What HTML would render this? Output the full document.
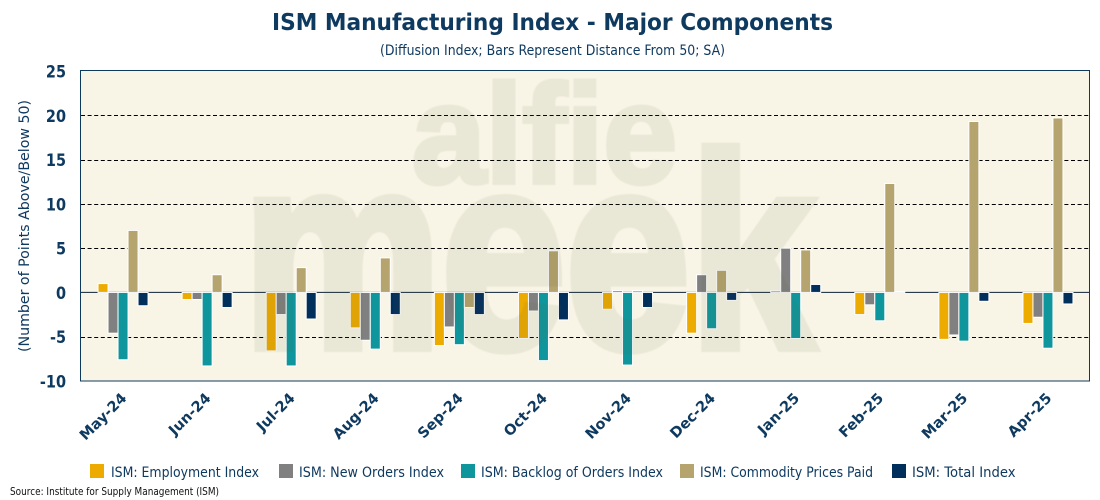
<!DOCTYPE html>
<html lang="en">
<head>
<meta charset="utf-8">
<title>ISM Manufacturing Index - Major Components</title>
<style>
html,body{margin:0;padding:0;background:#fff;width:1100px;height:500px;overflow:hidden}
svg{display:block}
text{font-family:"DejaVu Sans","Liberation Sans",sans-serif}
.navy{fill:#0f3a60}
</style>
</head>
<body>
<svg id="chart" xmlns="http://www.w3.org/2000/svg" width="1100" height="500" viewBox="0 0 1100 500">
  <rect width="1100" height="500" fill="#fff"/>
  <text class="navy" x="272" y="30" font-size="23" font-weight="700" textLength="561" lengthAdjust="spacingAndGlyphs">ISM Manufacturing Index - Major Components</text>
  <text class="navy" x="380" y="55" font-size="14" textLength="345" lengthAdjust="spacingAndGlyphs">(Diffusion Index; Bars Represent Distance From 50; SA)</text>
  <rect x="80.5" y="70.5" width="1009" height="310.5" fill="#f8f5e6"/>
  <g id="grid"></g>
  <g id="bars"></g>
  <g fill="#5a5a3c" stroke="#5a5a3c" opacity="0.085" style="filter:blur(.5px)">
    <text x="412" y="182.5" font-size="140" font-weight="700" stroke-width="5" textLength="265" lengthAdjust="spacingAndGlyphs" style="font-family:'Liberation Sans',sans-serif">alfie</text>
    <text x="243" y="347" font-size="275" font-weight="700" stroke-width="10" textLength="571" lengthAdjust="spacingAndGlyphs" style="font-family:'Liberation Sans',sans-serif">meek</text>
  </g>
  <rect x="80.5" y="70.5" width="1009" height="310.5" fill="none" stroke="#0f3a60" stroke-width="1"/>
  <g id="yticks"></g>
  <g id="xticks"></g>
  <text class="navy" transform="translate(29,352) rotate(-90)" x="0" y="0" font-size="14.5" textLength="252" lengthAdjust="spacingAndGlyphs">(Number of Points Above/Below 50)</text>
  <g>
    <g>
      <rect x="90" y="464" width="14" height="14" fill="#edab00"/>
      <text class="navy" x="111" y="477" font-size="14" textLength="148" lengthAdjust="spacingAndGlyphs">ISM: Employment Index</text>
    </g>
    <g>
      <rect x="279" y="464" width="14" height="14" fill="#808080"/>
      <text class="navy" x="299" y="477" font-size="14" textLength="145" lengthAdjust="spacingAndGlyphs">ISM: New Orders Index</text>
    </g>
    <g>
      <rect x="461" y="464" width="14" height="14" fill="#0f969c"/>
      <text class="navy" x="481" y="477" font-size="14" textLength="182" lengthAdjust="spacingAndGlyphs">ISM: Backlog of Orders Index</text>
    </g>
    <g>
      <rect x="680" y="464" width="14" height="14" fill="#b5a46d"/>
      <text class="navy" x="700" y="477" font-size="14" textLength="173" lengthAdjust="spacingAndGlyphs">ISM: Commodity Prices Paid</text>
    </g>
    <g>
      <rect x="892" y="464" width="14" height="14" fill="#002f5c"/>
      <text class="navy" x="912" y="477" font-size="14" textLength="103.5" lengthAdjust="spacingAndGlyphs">ISM: Total Index</text>
    </g>
  </g>
  <text x="10" y="495" font-size="10.5" fill="#111" textLength="209" lengthAdjust="spacingAndGlyphs">Source: Institute for Supply Management (ISM)</text>
</svg>
<script>
const categories = ["May-24","Jun-24","Jul-24","Aug-24","Sep-24","Oct-24","Nov-24","Dec-24","Jan-25","Feb-25","Mar-25","Apr-25"];
const employment = [1.0,-0.8,-6.6,-4.0,-6.0,-5.2,-1.9,-4.6,0.2,-2.5,-5.3,-3.5];
const newOrders = [-4.6,-0.8,-2.5,-5.4,-3.9,-2.1,0.2,2.0,5.0,-1.4,-4.8,-2.8];
const backlog = [-7.6,-8.3,-8.3,-6.4,-5.9,-7.7,-8.2,-4.1,-5.2,-3.2,-5.5,-6.3];
const prices = [7.0,2.0,2.8,3.9,-1.7,4.7,0.2,2.5,4.8,12.3,19.3,19.7];
const total = [-1.5,-1.7,-3.0,-2.5,-2.5,-3.1,-1.7,-0.9,0.9,0.1,-1.0,-1.3];
const yTickValues = [25,20,15,10,5,0,-5,-10];
const gridValues = [20,15,10,5,-5];
const seriesList = [employment,newOrders,backlog,prices,total];
const seriesKeys = ["employment","new-orders","backlog","commodity-prices","total"];
const seriesColors = ["#edab00","#808080","#0f969c","#b5a46d","#002f5c"];

const NS = "http://www.w3.org/2000/svg";
const plot = {left:81,right:1090,top:71,bottom:381,yMax:25,yMin:-10};
const yScale = v => plot.top + (plot.yMax - v) * (plot.bottom - plot.top) / (plot.yMax - plot.yMin);
const catWidth = (plot.right - plot.left) / categories.length;
const xCenter = i => plot.left + catWidth * (i + 0.5);
const barPitch = 10;
const barWidth = 10;

const grid = document.getElementById("grid");
gridValues.forEach(v => {
  const l = document.createElementNS(NS,"line");
  
  
  const y = Math.round(yScale(v)) + 0.5;
  l.setAttribute("x1",plot.left); l.setAttribute("x2",plot.right - 0.5);
  l.setAttribute("y1",y); l.setAttribute("y2",y);
  l.setAttribute("stroke","#000"); l.setAttribute("stroke-width","1");
  l.setAttribute("stroke-dasharray","4 2.6");
  grid.appendChild(l);
});
const zero = document.createElementNS(NS,"line");


zero.setAttribute("x1",plot.left); zero.setAttribute("x2",plot.right - 0.5);
zero.setAttribute("y1",yScale(0)); zero.setAttribute("y2",yScale(0));
zero.setAttribute("stroke","#0a2238"); zero.setAttribute("stroke-width","1");
grid.appendChild(zero);

const barsG = document.getElementById("bars");
seriesList.forEach((vals,s) => {
  vals.forEach((v,i) => {
    const r = document.createElementNS(NS,"rect");
    
    
    const x = xCenter(i) + (s - 2) * barPitch - barWidth / 2;
    const y0 = yScale(0), y1 = yScale(v);
    r.setAttribute("x",x);
    r.setAttribute("y",Math.min(y0,y1));
    r.setAttribute("width",barWidth);
    r.setAttribute("height",Math.abs(y1-y0));
    r.setAttribute("fill",seriesColors[s]);
    r.setAttribute("stroke","#fff");
    r.setAttribute("stroke-width","1");
    barsG.appendChild(r);
  });
});

const yG = document.getElementById("yticks");
yTickValues.forEach(v => {
  const t = document.createElementNS(NS,"text");
  
  
  t.setAttribute("transform","translate(66,"+(yScale(v)+6.5)+") scale(.85,1)");
  t.setAttribute("text-anchor","end");
  t.setAttribute("font-size","17"); t.setAttribute("font-weight","700");
  t.setAttribute("class","navy");
  t.textContent = v;
  yG.appendChild(t);
});

const xG = document.getElementById("xticks");
categories.forEach((c,i) => {
  const t = document.createElementNS(NS,"text");
  
  
  const x = xCenter(i) + 4.5, y = 399;
  t.setAttribute("transform","translate("+x+","+y+") rotate(-45)");
  t.setAttribute("text-anchor","end");
  t.setAttribute("font-size","14.5"); t.setAttribute("font-weight","700");
  t.setAttribute("class","navy");
  t.textContent = c;
  xG.appendChild(t);
});
</script>
</body>
</html>
